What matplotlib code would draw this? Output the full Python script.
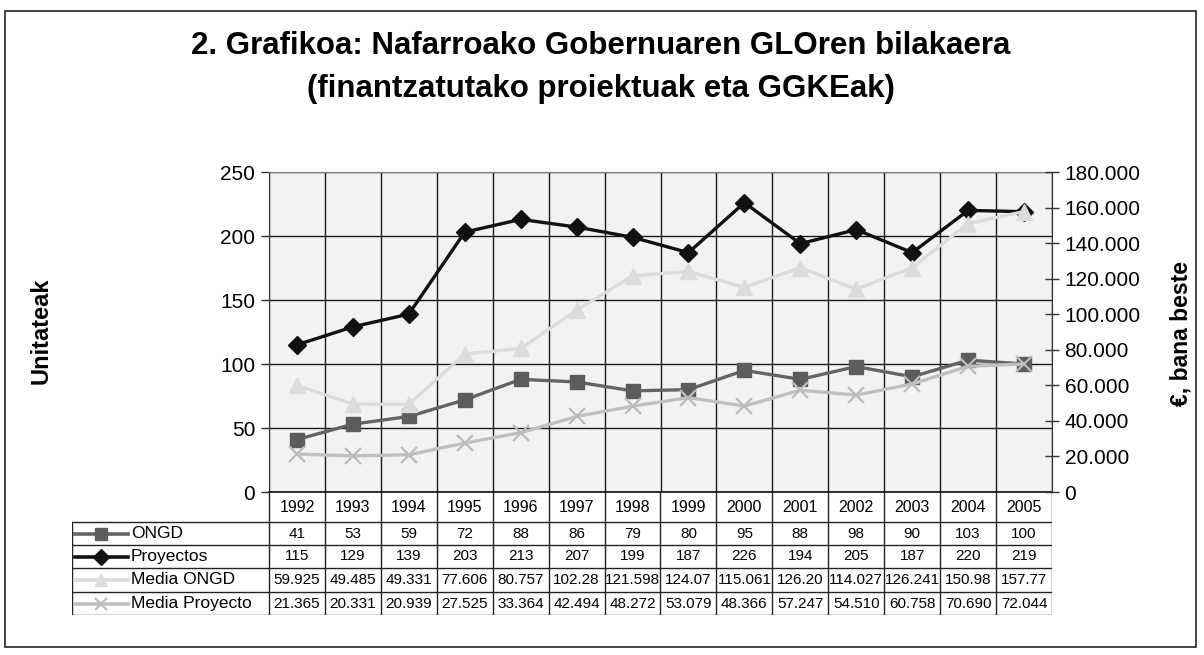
#!/usr/bin/env python3
"""GLO evolution chart (Nafarroako Gobernua) with a data table under the axes."""

import matplotlib

matplotlib.use("Agg")
import matplotlib.pyplot as plt
import numpy as np
from matplotlib.lines import Line2D
from matplotlib.patches import Rectangle
from matplotlib.ticker import FuncFormatter

YEARS = ["1992", "1993", "1994", "1995", "1996", "1997", "1998",
         "1999", "2000", "2001", "2002", "2003", "2004", "2005"]
ONGD = [41, 53, 59, 72, 88, 86, 79, 80, 95, 88, 98, 90, 103, 100]
PROYECTOS = [115, 129, 139, 203, 213, 207, 199, 187, 226, 194, 205, 187, 220, 219]
MEDIA_ONGD = [59925, 49485, 49331, 77606, 80757, 102280, 121598,
              124070, 115061, 126200, 114027, 126241, 150980, 157770]
MEDIA_PROYECTO = [21365, 20331, 20939, 27525, 33364, 42494, 48272,
                  53079, 48366, 57247, 54510, 60758, 70690, 72044]
# as printed in the table (some cells are cut short)
MEDIA_ONGD_LABELS = ["59.925", "49.485", "49.331", "77.606", "80.757", "102.28", "121.598",
                     "124.07", "115.061", "126.20", "114.027", "126.241", "150.98", "157.77"]
MEDIA_PROYECTO_LABELS = ["21.365", "20.331", "20.939", "27.525", "33.364", "42.494", "48.272",
                         "53.079", "48.366", "57.247", "54.510", "60.758", "70.690", "72.044"]

SERIES = [
    ("ONGD", dict(color="#646464", marker="s", mfc="#5c5c5c", mec="#5c5c5c"), 10.5),
    ("Proyectos", dict(color="#111111", marker="D", mfc="#111111", mec="#111111"), 9.5),
    ("Media ONGD", dict(color="#dcdcdc", marker="^", mfc="#dcdcdc", mec="#dcdcdc"), 12),
    ("Media Proyecto", dict(color="#c0c0c0", marker="x", mew=1.6, mec="#bcbcbc"), 11),
]

W, H = 1204, 655


def fx(px):
    return px / W


def fy(py):
    return 1 - py / H


def thousands(v, _pos):
    if v == 0:
        return "0"
    return f"{v:,.0f}".replace(",", ".")


def main() -> None:
    plt.rcParams["font.family"] = ["Liberation Sans", "DejaVu Sans"]
    fig = plt.figure(figsize=(W / 100, H / 100), dpi=100)

    fig.patches.append(Rectangle((fx(5), fy(647)), fx(1196) - fx(5), fy(11) - fy(647),
                                 transform=fig.transFigure, fill=False,
                                 edgecolor="#222222", linewidth=1.2))

    fig.text(fx(601), fy(46), "2. Grafikoa: Nafarroako Gobernuaren GLOren bilakaera",
             ha="center", va="center", fontsize=22.5, fontweight="bold")
    fig.text(fx(601), fy(89), "(finantzatutako proiektuak eta GGKEak)",
             ha="center", va="center", fontsize=22.5, fontweight="bold")

    left, right, top, bottom = 269, 1052, 172, 492
    ax = fig.add_axes([fx(left), fy(bottom), fx(right) - fx(left), fy(top) - fy(bottom)])
    ax.set_facecolor("#f2f2f2")
    n = len(YEARS)
    x = np.arange(n) + 0.5

    ax.plot(x, ONGD, linewidth=2.4, ms=SERIES[0][2], zorder=3, **SERIES[0][1])
    ax.plot(x, PROYECTOS, linewidth=2.4, ms=SERIES[1][2], zorder=4, **SERIES[1][1])
    ax.set_xlim(0, n)
    ax.set_ylim(0, 250)
    ax.set_yticks(np.arange(0, 251, 50))
    ax.set_xticks(np.arange(n + 1))
    ax.tick_params(axis="x", length=0, labelbottom=False)
    ax.tick_params(axis="y", direction="out", length=6, width=1, color="#333333",
                   labelsize=15, pad=4)
    ax.grid(True, color="#1a1a1a", linewidth=1)
    ax.set_axisbelow(True)
    for side in ("top", "right"):
        ax.spines[side].set_color("#808080")
    ax.spines["left"].set_color("#333333")
    ax.spines["bottom"].set_color("#111111")
    ax.spines["bottom"].set_linewidth(1.2)

    ax2 = ax.twinx()
    ax2.plot(x, MEDIA_ONGD, linewidth=2.4, ms=SERIES[2][2], zorder=3, **SERIES[2][1])
    ax2.plot(x, MEDIA_PROYECTO, linewidth=2.4, ms=SERIES[3][2], zorder=4, **SERIES[3][1])
    ax2.set_ylim(0, 180000)
    ax2.set_yticks(np.arange(0, 180001, 20000))
    ax2.yaxis.set_major_formatter(FuncFormatter(thousands))
    ax2.tick_params(axis="y", direction="inout", length=10, width=1, color="#333333",
                    labelsize=15, pad=4)
    for side in ("top", "left", "bottom"):
        ax2.spines[side].set_visible(False)
    ax2.spines["right"].set_color("#333333")

    fig.text(fx(41), fy(331), "Unitateak", rotation=90, ha="center", va="center",
             fontsize=17, fontweight="bold")
    fig.text(fx(1181), fy(334), "€, bana beste", rotation=90, ha="center", va="center",
             fontsize=16.5, fontweight="bold")

    # data table below the plot
    tleft, tbottom = 72, 615
    col_w = (right - left) / n
    legend_w = (left - tleft) / col_w
    tax = fig.add_axes([fx(tleft), fy(tbottom), fx(right) - fx(tleft), fy(bottom) - fy(tbottom)])
    tax.set_xlim(-legend_w, n)
    tax.set_ylim(tbottom - bottom, 0)
    tax.axis("off")
    rows = [0, 30, 53, 76, 100, 123]
    lc = "#222222"
    for r in rows[1:]:
        tax.plot([-legend_w, n], [r, r], color=lc, linewidth=1)
    for c in range(n + 1):
        tax.plot([c, c], [0, rows[-1]], color=lc, linewidth=1)
    tax.plot([-legend_w, -legend_w], [rows[1], rows[-1]], color=lc, linewidth=1)

    for i, yr in enumerate(YEARS):
        tax.text(i + 0.5, (rows[0] + rows[1]) / 2 + 1, yr, ha="center", va="center",
                 fontsize=11.5)

    table_rows = [
        [str(v) for v in ONGD],
        [str(v) for v in PROYECTOS],
        MEDIA_ONGD_LABELS,
        MEDIA_PROYECTO_LABELS,
    ]
    for k, (labels, (name, style, _ms)) in enumerate(zip(table_rows, SERIES)):
        yc = (rows[k + 1] + rows[k + 2]) / 2
        for i, lab in enumerate(labels):
            tax.text(i + 0.5, yc, lab, ha="center", va="center", fontsize=11)
        x0 = -legend_w + 0.05
        tax.add_line(Line2D([x0, x0 + 0.95], [yc, yc], linewidth=2.6,
                            **{k2: v for k2, v in style.items() if k2 != "marker"}))
        tax.plot([x0 + 0.475], [yc], linestyle="none", ms=8.5, **style)
        tax.text(x0 + 1.0, yc, name, ha="left", va="center", fontsize=12.5)

    fig.savefig("out.png", dpi=100)


if __name__ == "__main__":
    main()
